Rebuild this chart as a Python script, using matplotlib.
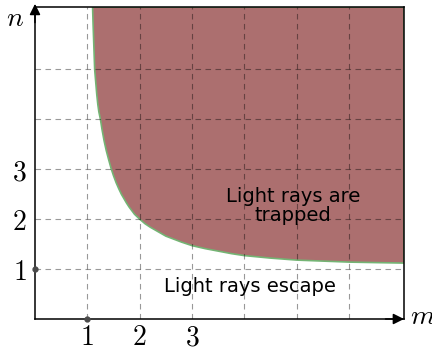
import numpy as np
import matplotlib
matplotlib.use("Agg")
from matplotlib import pyplot as plt

plt.rcParams['mathtext.fontset'] = 'cm'
plt.rcParams['font.family'] = ['DejaVu Sans']

# boundary between escaping and trapped rays
m_curve = [1.10, 1.11, 1.12, 1.13, 1.14, 1.16, 1.18, 1.20, 1.22, 1.25,
           1.28, 1.32, 1.36, 1.40, 1.45, 1.50, 1.55, 1.60, 1.65, 1.70,
           1.75, 1.80, 1.85, 1.90, 1.95, 2.00, 2.10, 2.20, 2.30, 2.40,
           2.50, 2.65, 2.80, 3.00, 3.25, 3.50, 3.75, 4.00, 4.50, 5.00,
           5.50, 6.00, 6.50, 7.05]
n_curve = [6.25, 5.90, 5.60, 5.30, 5.00, 4.75, 4.50, 4.30, 4.15, 4.00,
           3.80, 3.57, 3.38, 3.22, 3.03, 2.87, 2.73, 2.61, 2.50, 2.41,
           2.32, 2.24, 2.17, 2.10, 2.05, 2.00, 1.91, 1.84, 1.78, 1.72,
           1.66, 1.60, 1.54, 1.47, 1.41, 1.36, 1.31, 1.27, 1.22, 1.18,
           1.16, 1.14, 1.13, 1.12]

m_max = 7.05
n_max = 6.25
grid_m = [1, 2, 3, 4, 5, 6]
grid_n = [1, 2, 3, 4, 5]
tick_labels = ['1', '2', '3']
marked = [1]

fig = plt.figure(figsize=(4.32, 3.49), dpi=100)
ax = fig.add_axes([35 / 432, 30 / 349, 369 / 432, 312 / 349])

# trapped region: above the curve, closed along the top and right edges
poly_m = m_curve + [m_max, m_curve[0]]
poly_n = n_curve + [n_max, n_max]
ax.fill(poly_m, poly_n, facecolor='#ac6f6f', edgecolor='#74b474',
        linewidth=1.2, zorder=1)

ax.set_xlim(0, m_max)
ax.set_ylim(0, n_max)

ax.set_xticks(grid_m)
ax.set_xticklabels(['$%s$' % t for t in tick_labels] + [''] * (len(grid_m) - len(tick_labels)))
ax.set_yticks(grid_n)
ax.set_yticklabels(['$%s$' % t for t in tick_labels] + [''] * (len(grid_n) - len(tick_labels)))
ax.tick_params(length=0, labelsize=20)
ax.tick_params(axis='x', pad=3)
ax.tick_params(axis='y', pad=6)

ax.set_axisbelow(False)
ax.grid(True, color='black', alpha=0.4, linestyle=(0, (5, 4)), linewidth=0.8)

for s in ax.spines.values():
    s.set_linewidth(1.1)
    s.set_color('black')

# axis arrows
ax.annotate('', xy=(1.0, 0), xytext=(0.95, 0), xycoords='axes fraction',
            arrowprops=dict(arrowstyle='-|>', color='black', lw=1.1,
                            mutation_scale=16, shrinkA=0, shrinkB=0))
ax.annotate('', xy=(0, 1.01), xytext=(0, 0.95), xycoords='axes fraction',
            arrowprops=dict(arrowstyle='-|>', color='black', lw=1.1,
                            mutation_scale=16, shrinkA=0, shrinkB=0))
ax.text(1.015, 0.01, '$m$', transform=ax.transAxes, fontsize=20,
        ha='left', va='center')
ax.text(-0.055, 0.965, '$n$', transform=ax.transAxes, fontsize=20,
        ha='center', va='center')

# points marking 1 on each axis
ax.plot(marked, [0] * len(marked), 'o', color='#4a4a4a', ms=3.5,
        clip_on=False, zorder=5)
ax.plot([0] * len(marked), marked, 'o', color='#4a4a4a', ms=3.5,
        clip_on=False, zorder=5)

ax.text(4.93, 2.27, 'Light rays are\ntrapped', fontsize=14, ha='center',
        va='center', linespacing=1.0, zorder=6)
ax.text(4.11, 0.66, 'Light rays escape', fontsize=14, ha='center',
        va='center', zorder=6)

fig.savefig('out.png', dpi=100)
